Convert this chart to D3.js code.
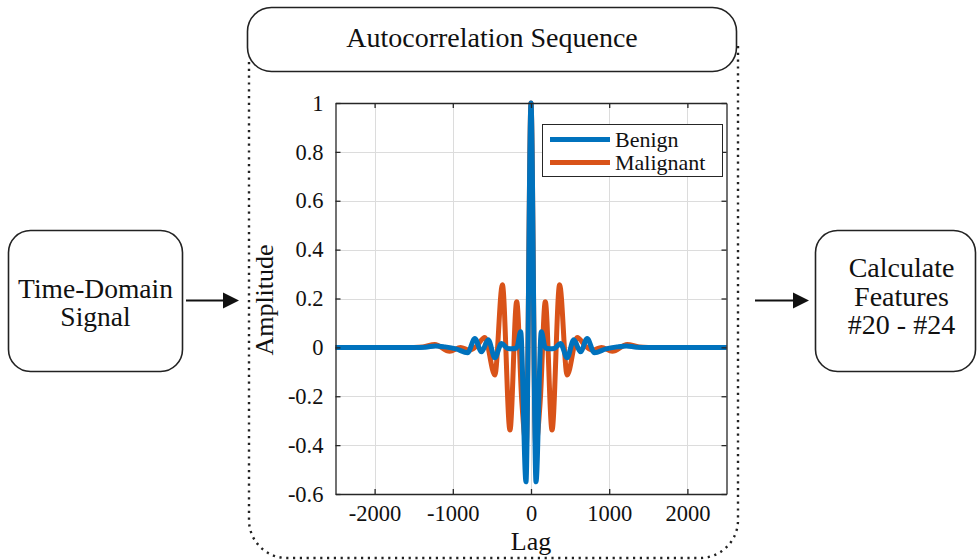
<!DOCTYPE html>
<html>
<head>
<meta charset="utf-8">
<script src="https://cdn.jsdelivr.net/npm/d3@7/dist/d3.min.js"></script>
<style>
  html, body { margin: 0; padding: 0; background: #fff; }
  svg { display: block; }
  text { font-family: "Liberation Serif", "Times New Roman", serif; fill: #111; }
</style>
</head>
<body>
<svg id="chart" width="977" height="560"></svg>
<script>
// ---------------- data ----------------
const lagTicks = [-2000, -1000, 0, 1000, 2000];
const ampTicks = [-0.6, -0.4, -0.2, 0, 0.2, 0.4, 0.6, 0.8, 1];
const seriesNames = ["Benign", "Malignant"];

const benignLag = [-2500, -1500, -1350, -1220, -1100, -960, -810, -718, -633, -547, -462, -377, -300, -240, -183, -132, -64, 0,
                   64, 132, 183, 240, 300, 377, 462, 547, 633, 718, 810, 960, 1100, 1220, 1350, 1500, 2500];
const benignAmp = [0, 0, 0.001, 0.006, 0.002, -0.006, -0.022, 0.036, -0.018, 0.031, -0.042, 0.016, -0.004, -0.006, -0.002, 0.064, -0.55, 1,
                   -0.55, 0.064, -0.002, -0.006, -0.004, 0.016, -0.042, 0.031, -0.018, 0.036, -0.022, -0.006, 0.002, 0.006, 0.001, 0, 0];

const malignantLag = [-2500, -1500, -1380, -1230, -1040, -900, -790, -700, -590, -462, -366, -269, -183, -118, -60, 0,
                      60, 118, 183, 269, 366, 462, 590, 700, 790, 900, 1040, 1230, 1380, 1500, 2500];
const malignantAmp = [0, 0, 0.002, 0.012, -0.016, 0.0, -0.012, 0.004, 0.04, -0.113, 0.256, -0.338, 0.187, -0.22, -0.4, 1,
                      -0.4, -0.22, 0.187, -0.338, 0.256, -0.113, 0.04, 0.004, -0.012, 0.0, -0.016, 0.012, 0.002, 0, 0];

const colors = ["#0072BD", "#D95319"];

// ---------------- layout ----------------
const svg = d3.select("#chart");
const plot = { left: 335.5, right: 726.5, top: 103, bottom: 494 };

const x = d3.scaleLinear().domain([-2500, 2500]).range([plot.left, plot.right]);
const y = d3.scaleLinear().domain([-0.6, 1]).range([plot.bottom, plot.top]);

// dotted container (drawn first, title box covers its top)
svg.append("path")
  .attr("d", "M249,62 L249,520 A38,38 0 0 0 287,558 L700,558 A38,38 0 0 0 738,520 L738,44")
  .attr("fill", "none")
  .attr("stroke", "#222")
  .attr("stroke-width", 2.4)
  .attr("stroke-dasharray", "2.2,4.6");

// title box
svg.append("rect")
  .attr("x", 247.5).attr("y", 7.5).attr("width", 489).attr("height", 64)
  .attr("rx", 24).attr("ry", 24)
  .attr("fill", "#fff").attr("stroke", "#222").attr("stroke-width", 1.6);
svg.append("text")
  .attr("x", 492).attr("y", 47)
  .attr("text-anchor", "middle")
  .attr("font-size", 28)
  .text("Autocorrelation Sequence");

// left box
svg.append("rect")
  .attr("x", 8.5).attr("y", 230.5).attr("width", 174).attr("height", 141)
  .attr("rx", 22).attr("ry", 22)
  .attr("fill", "#fff").attr("stroke", "#222").attr("stroke-width", 1.6);
svg.append("text").attr("x", 95.5).attr("y", 298).attr("text-anchor", "middle")
  .attr("font-size", 27.5).text("Time-Domain");
svg.append("text").attr("x", 95.5).attr("y", 326).attr("text-anchor", "middle")
  .attr("font-size", 27.5).text("Signal");

// right box
svg.append("rect")
  .attr("x", 815.5).attr("y", 230.5).attr("width", 160).attr("height", 141)
  .attr("rx", 22).attr("ry", 22)
  .attr("fill", "#fff").attr("stroke", "#222").attr("stroke-width", 1.6);
[["Calculate", 277], ["Features", 305.5], ["#20 - #24", 334]].forEach(([t, by]) => {
  svg.append("text").attr("x", 901.5).attr("y", by).attr("text-anchor", "middle")
    .attr("font-size", 28).text(t);
});

// arrows
function arrow(x1, x2, yy) {
  svg.append("line").attr("x1", x1).attr("x2", x2 - 14).attr("y1", yy).attr("y2", yy)
    .attr("stroke", "#111").attr("stroke-width", 2);
  svg.append("path")
    .attr("d", `M${x2},${yy} L${x2 - 16},${yy - 8} L${x2 - 16},${yy + 8} Z`)
    .attr("fill", "#111");
}
arrow(186, 239, 300.5);
arrow(755, 809, 300.5);

// ---------------- axes area ----------------
svg.append("rect")
  .attr("x", plot.left).attr("y", plot.top)
  .attr("width", plot.right - plot.left).attr("height", plot.bottom - plot.top)
  .attr("fill", "#fff");

// grid
const grid = svg.append("g").attr("stroke", "#dcdcdc").attr("stroke-width", 1);
lagTicks.forEach(v => grid.append("line")
  .attr("x1", Math.round(x(v)) + 0.5).attr("x2", Math.round(x(v)) + 0.5)
  .attr("y1", plot.top).attr("y2", plot.bottom));
ampTicks.forEach(v => grid.append("line")
  .attr("y1", Math.round(y(v)) + 0.5).attr("y2", Math.round(y(v)) + 0.5)
  .attr("x1", plot.left).attr("x2", plot.right));

// series
const line = d3.line().curve(d3.curveMonotoneX);
const malPts = malignantLag.map((l, i) => [x(l), y(malignantAmp[i])]);
const benPts = benignLag.map((l, i) => [x(l), y(benignAmp[i])]);
svg.append("path").attr("d", line(malPts)).attr("fill", "none")
  .attr("stroke", colors[1]).attr("stroke-width", 5).attr("stroke-linejoin", "round");
svg.append("path").attr("d", line(benPts)).attr("fill", "none")
  .attr("stroke", colors[0]).attr("stroke-width", 5).attr("stroke-linejoin", "round");

// axes
const fmt = d => (d === 0 ? "0" : String(+d.toFixed(1)));
const axisColor = "#262626";

function styleAxis(g) {
  g.attr("font-family", null);
  g.select(".domain").attr("stroke", axisColor).attr("stroke-width", 1.3);
  g.selectAll(".tick line").attr("stroke", axisColor).attr("stroke-width", 1.3);
  g.selectAll(".tick text").attr("fill", "#222").attr("font-size", 22.5);
}

svg.append("g").attr("transform", `translate(0,${plot.bottom})`)
  .call(d3.axisBottom(x).tickValues(lagTicks).tickSize(-5).tickSizeOuter(0).tickPadding(11).tickFormat(d => String(d)))
  .call(styleAxis);
svg.append("g").attr("transform", `translate(0,${plot.top})`)
  .call(d3.axisTop(x).tickValues(lagTicks).tickSize(-5).tickSizeOuter(0).tickFormat(""))
  .call(styleAxis);
svg.append("g").attr("transform", `translate(${plot.left},0)`)
  .call(d3.axisLeft(y).tickValues(ampTicks).tickSize(-5).tickSizeOuter(0).tickPadding(12).tickFormat(fmt))
  .call(styleAxis);
svg.append("g").attr("transform", `translate(${plot.right},0)`)
  .call(d3.axisRight(y).tickValues(ampTicks).tickSize(-5).tickSizeOuter(0).tickFormat(""))
  .call(styleAxis);

// axis labels
svg.append("text").attr("x", 531).attr("y", 550).attr("text-anchor", "middle")
  .attr("font-size", 26).text("Lag");
svg.append("text").attr("transform", "translate(273,300) rotate(-90)")
  .attr("text-anchor", "middle").attr("font-size", 26).text("Amplitude");

// legend
const lg = svg.append("g");
lg.append("rect").attr("x", 542.5).attr("y", 124.5).attr("width", 180).attr("height", 52)
  .attr("fill", "#fff").attr("stroke", "#262626").attr("stroke-width", 1);
seriesNames.forEach((name, i) => {
  const yy = 139.5 + i * 23;
  lg.append("line").attr("x1", 550).attr("x2", 610).attr("y1", yy).attr("y2", yy)
    .attr("stroke", colors[i]).attr("stroke-width", 5);
  lg.append("text").attr("x", 615).attr("y", yy + 7.5).attr("font-size", 22).text(name);
});
</script>
</body>
</html>
